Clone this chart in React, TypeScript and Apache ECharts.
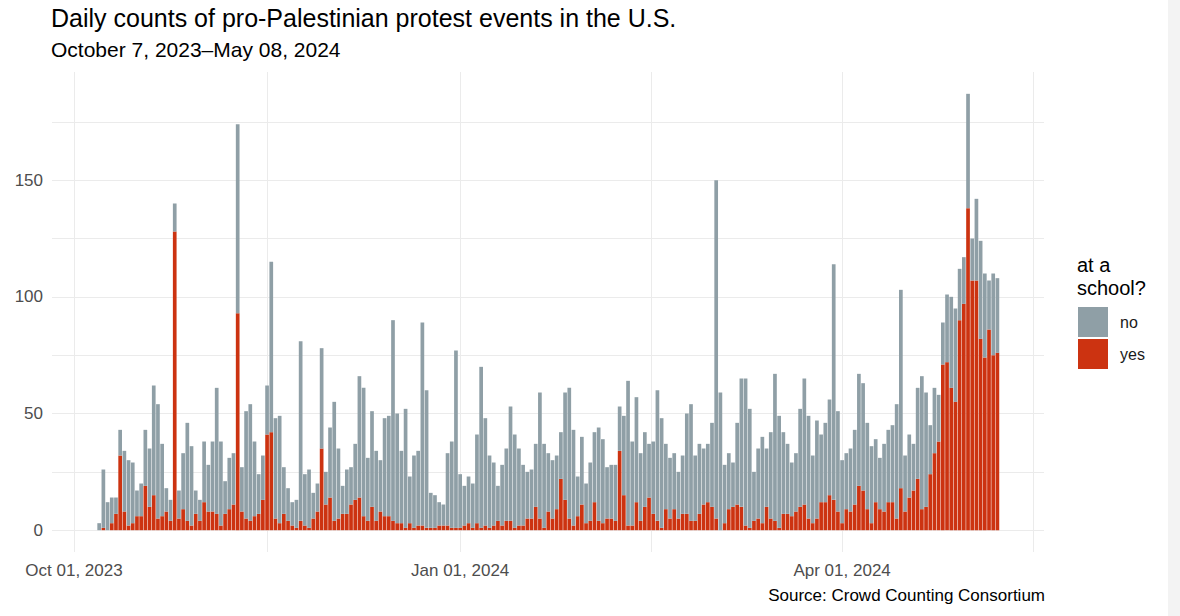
import { useEffect, useRef } from "react";
import * as echarts from "echarts";

// Days are counted from Oct 01, 2023 (day 0). First observation: Oct 7, 2023 (day 6).
const firstDay = 6;
const xBreaks = [0, 92, 183];
const xBreakLabels = ["Oct 01, 2023", "Jan 01, 2024", "Apr 01, 2024"];
const xGridLines = [0, 46, 92, 137.5, 183, 228.5];
const yBreaks = [0, 50, 100, 150];
const yGridLines = [0, 25, 50, 75, 100, 125, 150, 175];

// events at a school ("yes"), one per day from Oct 7, 2023 to May 8, 2024
const yesCounts = [
  0, 1, 0, 3, 7, 32, 8, 2, 3, 6, 6, 19, 10, 15, 5, 6, 8, 4, 128, 5,
  9, 4, 2, 7, 4, 12, 8, 8, 7, 2, 7, 9, 11, 93, 8, 5, 4, 6, 7, 13,
  41, 42, 5, 3, 7, 4, 2, 1, 4, 2, 1, 5, 8, 35, 11, 14, 4, 5, 7, 7,
  11, 13, 14, 6, 4, 10, 4, 8, 6, 6, 4, 3, 3, 1, 3, 1, 2, 2, 1, 1,
  1, 2, 2, 2, 1, 1, 1, 2, 3, 1, 3, 1, 2, 1, 2, 4, 2, 4, 4, 1,
  2, 2, 5, 5, 10, 5, 1, 8, 5, 9, 22, 13, 5, 2, 6, 11, 3, 4, 12, 4,
  3, 5, 5, 4, 34, 15, 2, 2, 12, 4, 10, 14, 7, 4, 1, 9, 5, 9, 5, 7,
  7, 4, 4, 7, 11, 12, 10, 5, 0, 3, 9, 10, 11, 10, 2, 1, 4, 5, 3, 10,
  5, 4, 1, 7, 7, 6, 8, 10, 11, 5, 3, 5, 12, 12, 15, 13, 8, 3, 9, 8,
  11, 19, 17, 9, 3, 12, 9, 8, 12, 12, 5, 18, 8, 14, 17, 22, 9, 10, 24, 33,
  38, 71, 72, 61, 55, 90, 97, 138, 107, 107, 82, 74, 86, 75, 76,
];

// events not at a school ("no")
const noCounts = [
  3, 25, 12, 11, 7, 11, 26, 28, 26, 11, 14, 24, 25, 47, 49, 31, 10, 9, 12, 12,
  24, 42, 34, 10, 9, 26, 20, 30, 54, 36, 14, 22, 22, 81, 19, 46, 50, 32, 17, 19,
  21, 73, 43, 46, 20, 14, 10, 12, 77, 22, 25, 11, 12, 43, 14, 30, 51, 30, 12, 19,
  16, 24, 52, 55, 27, 41, 30, 22, 42, 43, 86, 47, 31, 51, 20, 31, 32, 87, 59, 15,
  14, 10, 9, 31, 37, 76, 23, 17, 20, 19, 38, 69, 46, 31, 27, 15, 26, 31, 49, 40,
  33, 26, 20, 21, 27, 54, 36, 25, 25, 23, 20, 46, 56, 41, 17, 29, 17, 25, 30, 40,
  36, 22, 23, 24, 19, 34, 62, 36, 45, 29, 32, 23, 31, 56, 47, 28, 26, 24, 20, 25,
  43, 50, 28, 30, 24, 25, 36, 145, 59, 25, 24, 19, 35, 55, 63, 51, 21, 30, 37, 25,
  37, 63, 48, 35, 30, 23, 25, 42, 54, 44, 29, 42, 29, 34, 41, 101, 43, 27, 24, 27,
  32, 48, 46, 37, 33, 27, 22, 29, 31, 33, 49, 85, 24, 27, 20, 39, 57, 49, 21, 28,
  20, 18, 29, 39, 40, 22, 20, 49, 18, 35, 42, 36, 21, 35, 32,
];

const FONT = '"Liberation Sans", Arial, sans-serif';
const COLOR_NO = "#8f9fa6";
const COLOR_YES = "#cc3311";
const BAR_HALF = 0.44;

export default function App() {
  const ref = useRef<HTMLDivElement>(null);

  useEffect(() => {
    if (!ref.current) return;
    const chart = echarts.init(ref.current, null, { renderer: "svg" });

    // stacked intervals: [day, low, high]
    const yesData = yesCounts.map((v, i) => [firstDay + i, 0, v]);
    const noData = noCounts.map((v, i) => [firstDay + i, yesCounts[i], yesCounts[i] + v]);

    const makeRender = (color: string) => (params: any, api: any) => {
      const x = api.value(0);
      const lo = api.value(1);
      const hi = api.value(2);
      const p1 = api.coord([x - BAR_HALF, hi]);
      const p2 = api.coord([x + BAR_HALF, lo]);
      return {
        type: "rect",
        shape: { x: p1[0], y: p1[1], width: p2[0] - p1[0], height: p2[1] - p1[1] },
        style: { fill: color },
      };
    };

    chart.setOption({
      animation: false,
      backgroundColor: "transparent",
      grid: { left: 52, right: 136, top: 72, bottom: 64, containLabel: false },
      xAxis: {
        type: "value",
        min: -5.24,
        max: 231.1,
        axisLine: { show: false },
        axisTick: { show: false, customValues: xGridLines },
        axisLabel: {
          customValues: xBreaks,
          formatter: (v: number) => {
            const i = xBreaks.indexOf(v);
            return i >= 0 ? xBreakLabels[i] : "";
          },
          fontSize: 17,
          fontFamily: FONT,
          color: "#4d4d4d",
          margin: 10,
        },
        splitLine: { show: true, lineStyle: { color: "#ebebeb", width: 1 } },
      },
      yAxis: {
        type: "value",
        min: -9.35,
        max: 196.35,
        axisLine: { show: false },
        axisTick: { show: false, customValues: yGridLines },
        axisLabel: {
          customValues: yBreaks,
          fontSize: 17,
          fontFamily: FONT,
          color: "#4d4d4d",
          margin: 9,
        },
        splitLine: { show: true, lineStyle: { color: "#ebebeb", width: 1 } },
      },
      legend: {
        data: ["no", "yes"],
        orient: "vertical",
        left: 1078,
        top: 307,
        padding: 0,
        itemWidth: 30,
        itemHeight: 30,
        itemGap: 2,
        icon: "rect",
        selectedMode: false,
        textStyle: { fontSize: 16, fontFamily: FONT, color: "#1a1a1a", padding: [0, 0, 0, 7] },
      },
      graphic: [
        {
          type: "text",
          left: 51,
          top: 5,
          style: { text: "Daily counts of pro-Palestinian protest events in the U.S.", font: `25px ${FONT}`, fill: "#000" },
        },
        {
          type: "text",
          left: 51,
          top: 39,
          style: { text: "October 7, 2023\u2013May 08, 2024", font: `21px ${FONT}`, fill: "#000" },
        },
        {
          type: "text",
          left: 1077,
          top: 253,
          style: { text: "at a\nschool?", font: `20px ${FONT}`, lineHeight: 23, fill: "#000" },
        },
        {
          type: "text",
          right: 135,
          top: 587,
          style: { text: "Source: Crowd Counting Consortium", font: `17px ${FONT}`, fill: "#000" },
        },
      ],
      series: [
        {
          name: "yes",
          type: "custom",
          itemStyle: { color: COLOR_YES },
          encode: { x: 0, y: [1, 2] },
          renderItem: makeRender(COLOR_YES),
          data: yesData,
        },
        {
          name: "no",
          type: "custom",
          itemStyle: { color: COLOR_NO },
          encode: { x: 0, y: [1, 2] },
          renderItem: makeRender(COLOR_NO),
          data: noData,
        },
      ],
    });
    return () => chart.dispose();
  }, []);

  return (
    <div style={{ position: "fixed", left: 0, top: 0, width: 1180, height: 616, background: "#ffffff" }}>
      <div style={{ position: "absolute", left: 1168, top: 0, width: 12, height: 616, background: "#f3f3f3" }} />
      <div ref={ref} style={{ position: "absolute", left: 0, top: 0, width: 1180, height: 616 }} />
    </div>
  );
}
